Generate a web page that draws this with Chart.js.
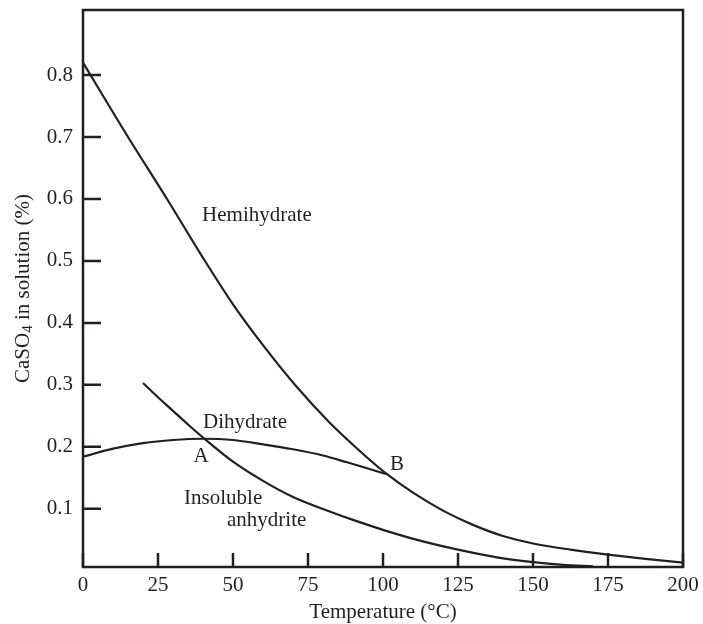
<!DOCTYPE html>
<html lang="en">
<head>
<meta charset="UTF-8">
<title>CaSO4 in solution vs temperature</title>
<style>
    html, body { margin: 0; padding: 0; background: #fff; }
</style>
<script src="https://cdn.jsdelivr.net/npm/chart.js"></script>
</head>
<body>
<canvas id="solubilityChart" width="703" height="624"></canvas>
<script>
    // Solubility curves (temperature in °C, CaSO4 in %)
    const hemiTemps = [0, 15, 28, 40, 50, 60, 71, 82, 93, 101, 110, 120, 130, 140, 150, 162.5, 175, 187.5, 200];
    const hemiValues = [0.82, 0.70, 0.60, 0.505, 0.43, 0.364, 0.298, 0.24, 0.19, 0.157, 0.126, 0.097, 0.074, 0.056, 0.044, 0.034, 0.026, 0.019, 0.013];

    const diTemps = [0, 10, 20, 30, 40, 50, 60, 70, 80, 88, 95, 101];
    const diValues = [0.184, 0.197, 0.206, 0.211, 0.213, 0.211, 0.204, 0.196, 0.186, 0.175, 0.165, 0.156];

    const anhyTemps = [20, 25, 30, 35, 40, 50, 60, 70, 82, 90, 100, 112, 125, 137.5, 150, 160, 170];
    const anhyValues = [0.303, 0.28, 0.258, 0.236, 0.215, 0.176, 0.145, 0.119, 0.096, 0.082, 0.066, 0.049, 0.034, 0.022, 0.014, 0.0095, 0.007];

    const xTicks = [0, 25, 50, 75, 100, 125, 150, 175, 200];
    const yTicks = [0.1, 0.2, 0.3, 0.4, 0.5, 0.6, 0.7, 0.8];

    const ink = '#231f20';
    const serif = '"Liberation Serif", "DejaVu Serif", serif';

    // Region and point names, anchored in data units
    const curveLabels = [
        { text: 'Hemihydrate', x: 39.7, y: 0.573, align: 'left' },
        { text: 'Dihydrate', x: 40, y: 0.239, align: 'left' },
        { text: 'A', x: 39.4, y: 0.185, align: 'center' },
        { text: 'B', x: 104.7, y: 0.171, align: 'center' },
        { text: 'Insoluble', x: 33.7, y: 0.116, align: 'left' },
        { text: 'anhydrite', x: 48, y: 0.081, align: 'left' }
    ];

    const toPoints = (xs, ys) => xs.map((t, i) => ({ x: t, y: ys[i] }));

    const curve = (label, xs, ys) => ({
        label: label,
        data: toPoints(xs, ys),
        borderColor: ink,
        borderWidth: 2.2,
        pointRadius: 0,
        fill: false,
        cubicInterpolationMode: 'monotone'
    });

    // Box frame, inward tick marks, curve names and axis titles
    const framePlugin = {
        id: 'framePlugin',
        afterDatasetsDraw(chart) {
            const { ctx, chartArea: a, scales } = chart;
            const x = scales.x, y = scales.y;
            ctx.save();
            ctx.strokeStyle = ink;
            ctx.lineWidth = 2.5;
            ctx.strokeRect(a.left, a.top, a.right - a.left, a.bottom - a.top);

            ctx.beginPath();
            xTicks.forEach(v => {
                const px = x.getPixelForValue(v);
                ctx.moveTo(px, a.bottom);
                ctx.lineTo(px, a.bottom - 14);
            });
            yTicks.forEach(v => {
                const py = y.getPixelForValue(v);
                ctx.moveTo(a.left, py);
                ctx.lineTo(a.left + 18, py);
            });
            ctx.stroke();

            ctx.fillStyle = ink;
            ctx.font = '21px ' + serif;
            ctx.textBaseline = 'middle';
            curveLabels.forEach(l => {
                ctx.textAlign = l.align;
                ctx.fillText(l.text, x.getPixelForValue(l.x), y.getPixelForValue(l.y));
            });

            ctx.textAlign = 'center';
            ctx.fillText('Temperature (°C)', (a.left + a.right) / 2, a.bottom + 45);

            // y title with subscript 4
            ctx.translate(23, (a.top + a.bottom) / 2);
            ctx.rotate(-Math.PI / 2);
            ctx.textAlign = 'left';
            const big = '21px ' + serif, small = '15px ' + serif;
            ctx.font = big;
            const w1 = ctx.measureText('CaSO').width;
            const w3 = ctx.measureText(' in solution (%)').width;
            ctx.font = small;
            const w2 = ctx.measureText('4').width;
            let cx = -(w1 + w2 + w3) / 2;
            ctx.font = big;
            ctx.fillText('CaSO', cx, 0);
            cx += w1;
            ctx.font = small;
            ctx.fillText('4', cx, 5);
            cx += w2;
            ctx.font = big;
            ctx.fillText(' in solution (%)', cx, 0);
            ctx.restore();
        }
    };

    const ctxSol = document.getElementById('solubilityChart').getContext('2d');
    const solubilityChart = new Chart(ctxSol, {
        type: 'line',
        data: {
            datasets: [
                curve('Hemihydrate', hemiTemps, hemiValues),
                curve('Dihydrate', diTemps, diValues),
                curve('Insoluble anhydrite', anhyTemps, anhyValues)
            ]
        },
        options: {
            responsive: false,
            animation: false,
            layout: { padding: { top: 10, right: 20, left: 0, bottom: 0 } },
            plugins: {
                legend: { display: false },
                tooltip: { enabled: false }
            },
            scales: {
                x: {
                    type: 'linear',
                    min: 0,
                    max: 200,
                    grid: { display: false, drawTicks: false },
                    border: { display: false },
                    afterBuildTicks: s => { s.ticks = xTicks.map(v => ({ value: v })); },
                    afterFit: s => { s.height = 57; s.paddingLeft = 0; s.paddingRight = 0; },
                    ticks: {
                        color: ink,
                        padding: 6,
                        font: { family: serif, size: 21 },
                        callback: v => String(v)
                    }
                },
                y: {
                    type: 'linear',
                    min: 0.006,
                    max: 0.905,
                    grid: { display: false, drawTicks: false },
                    border: { display: false },
                    afterBuildTicks: s => { s.ticks = yTicks.map(v => ({ value: v })); },
                    afterFit: s => { s.width = 83; s.paddingTop = 0; s.paddingBottom = 0; },
                    ticks: {
                        color: ink,
                        padding: 10,
                        font: { family: serif, size: 21 },
                        callback: v => v.toFixed(1)
                    }
                }
            }
        },
        plugins: [framePlugin]
    });
</script>
</body>
</html>
